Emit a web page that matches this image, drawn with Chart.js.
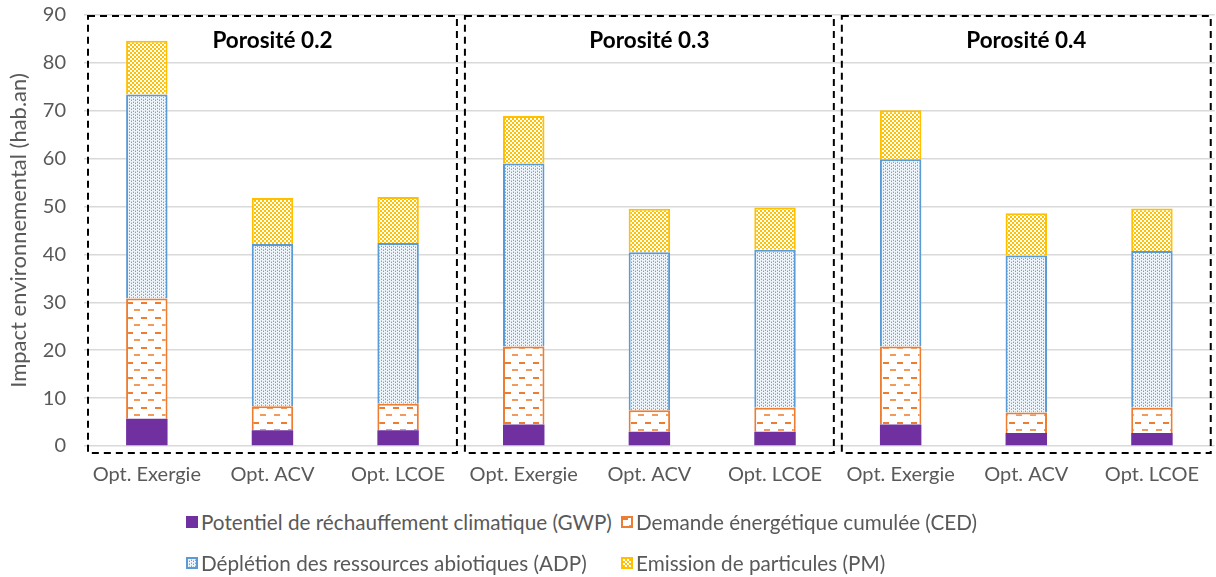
<!DOCTYPE html>
<html lang="fr">
  <head>
    <meta charset="utf-8" />
    <title>Impact environnemental</title>
    <script src="https://cdn.jsdelivr.net/npm/chart.js"></script>
    <style>
      body {
        margin: 0;
        background: #fff;
        font-family: Lato, "Open Sans", sans-serif;
      }
      .wrap {
        position: relative;
        width: 1216px;
        height: 577px;
      }
      .chart-box {
        position: absolute;
        left: 0;
        top: 0;
        width: 1216px;
        height: 495px;
      }
      .legend {
        position: absolute;
        left: 186px;
        top: 510px;
        display: grid;
        grid-template-columns: 435px auto;
        row-gap: 17px;
        font-family: Lato, sans-serif;
        font-size: 20.7px;
        color: #595959;
      }
      .legend div {
        display: flex;
        align-items: center;
        height: 24px;
        white-space: nowrap;
      }
      .legend canvas {
        width: 12px;
        height: 12px;
        margin-right: 3px;
      }
    </style>
  </head>
  <body>
    <div class="wrap">
      <div class="chart-box"><canvas id="impactChart"></canvas></div>
      <div class="legend" id="legend"></div>
    </div>
    <script>
      // categories and groups
      const categories = [
        "Opt. Exergie", "Opt. ACV", "Opt. LCOE",
        "Opt. Exergie", "Opt. ACV", "Opt. LCOE",
        "Opt. Exergie", "Opt. ACV", "Opt. LCOE",
      ];
      const groupTitles = ["Porosité 0.2", "Porosité 0.3", "Porosité 0.4"];

      // valeurs (hab.an)
      const gwp = [5.7, 3.3, 3.3, 4.5, 3.0, 3.0, 4.5, 2.7, 2.7];
      const ced = [25.1, 5.0, 5.5, 16.3, 4.45, 5.0, 16.3, 4.3, 5.3];
      const adp = [42.6, 33.9, 33.6, 38.2, 33.0, 33.0, 39.1, 32.8, 32.7];
      const pm = [11.2, 9.6, 9.6, 9.9, 9.1, 8.8, 10.2, 8.8, 8.9];

      const yTicks = [0, 10, 20, 30, 40, 50, 60, 70, 80, 90];

      const labels = [
        "Potentiel de réchauffement climatique (GWP)",
        "Demande énergétique cumulée (CED)",
        "Déplétion des ressources abiotiques (ADP)",
        "Emission de particules (PM)",
      ];

      // motifs de remplissage
      function makeTile(w, h, draw) {
        const c = document.createElement("canvas");
        c.width = w;
        c.height = h;
        draw(c.getContext("2d"));
        return c;
      }
      const cedTile = makeTile(14, 15, (g) => {
        g.fillStyle = "#fff";
        g.fillRect(0, 0, 14, 15);
        g.fillStyle = "#ED7D31";
        g.fillRect(1, 2, 6, 2);
        g.fillStyle = "#F29A5C";
        g.fillRect(8, 9, 6, 2);
      });
      const adpTile = makeTile(4, 3, (g) => {
        g.fillStyle = "#EEF5FB";
        g.fillRect(0, 0, 4, 3);
        g.fillStyle = "#6AA5DB";
        g.fillRect(1, 0, 1, 1);
        g.fillRect(3, 1, 1, 1);
        g.fillStyle = "#B3D2EE";
        g.fillRect(1, 2, 1, 1);
        g.fillRect(3, 0, 1, 1);
      });
      const pmTile = makeTile(4, 4, (g) => {
        g.fillStyle = "#FFC000";
        g.fillRect(0, 0, 4, 4);
        g.fillStyle = "#fff";
        g.fillRect(0, 0, 2, 2);
        g.fillRect(2, 2, 2, 2);
      });

      const ctx = document.getElementById("impactChart");
      const c2d = ctx.getContext("2d");
      const cedPattern = c2d.createPattern(cedTile, "repeat");
      const adpPattern = c2d.createPattern(adpTile, "repeat");
      const pmPattern = c2d.createPattern(pmTile, "repeat");

      // cadres pointillés autour de chaque groupe + titres
      const groupBoxes = {
        id: "groupBoxes",
        afterDraw(chart) {
          const x = chart.scales.x;
          const y = chart.scales.y;
          const g = chart.ctx;
          const step = x.getPixelForValue(1) - x.getPixelForValue(0);
          const top = y.getPixelForValue(90) + 1;
          const bottom = y.getPixelForValue(0) + 7;
          g.save();
          g.strokeStyle = "#000";
          g.lineWidth = 2;
          g.setLineDash([7, 5]);
          groupTitles.forEach((t, i) => {
            const left = x.getPixelForValue(i * 3) - step / 2 + 4;
            const right = x.getPixelForValue(i * 3 + 2) + step / 2 - 4;
            g.strokeRect(left, top, right - left, bottom - top);
          });
          g.setLineDash([]);
          g.fillStyle = "#000";
          g.font = "bold 22.5px Lato, sans-serif";
          g.textAlign = "center";
          g.textBaseline = "middle";
          groupTitles.forEach((t, i) => {
            g.fillText(t, x.getPixelForValue(i * 3 + 1), top + 25);
          });
          g.restore();
        },
      };

      new Chart(ctx, {
        type: "bar",
        data: {
          labels: categories,
          datasets: [
            {
              label: labels[0],
              data: gwp,
              backgroundColor: "#7030A0",
              borderWidth: 0,
            },
            {
              label: labels[1],
              data: ced,
              backgroundColor: cedPattern,
              borderColor: "#ED7D31",
              borderWidth: 2,
            },
            {
              label: labels[2],
              data: adp,
              backgroundColor: adpPattern,
              borderColor: "#5B9BD5",
              borderWidth: 2,
            },
            {
              label: labels[3],
              data: pm,
              backgroundColor: pmPattern,
              borderColor: "#FFC000",
              borderWidth: 2,
            },
          ],
        },
        options: {
          responsive: true,
          maintainAspectRatio: false,
          animation: false,
          datasets: {
            bar: { categoryPercentage: 1, barPercentage: 0.33 },
          },
          layout: { padding: { top: 15, right: 0, left: 0, bottom: 0 } },
          plugins: {
            legend: { display: false },
            tooltip: { enabled: false },
          },
          scales: {
            x: {
              stacked: true,
              grid: { display: false, drawTicks: false },
              border: { display: false },
              ticks: {
                padding: 17,
                color: "#595959",
                font: { family: "Lato, sans-serif", size: 20 },
                maxRotation: 0,
                autoSkip: false,
              },
              afterFit: (s) => {
                s.height = 49;
              },
            },
            y: {
              stacked: true,
              min: 0,
              max: 90,
              afterBuildTicks: (s) => {
                s.ticks = yTicks.map((v) => ({ value: v }));
              },
              grid: { color: "#D9D9D9", lineWidth: 1.5, drawTicks: false },
              border: { display: false },
              ticks: {
                padding: 18,
                color: "#595959",
                font: { family: "Lato, sans-serif", size: 20 },
              },
              title: {
                display: true,
                text: "Impact environnemental (hab.an)",
                color: "#595959",
                font: { family: "Lato, sans-serif", size: 22 },
                padding: { top: 6, bottom: 0 },
              },
              afterFit: (s) => {
                s.width = 84;
                s.paddingTop = 0;
                s.paddingBottom = 0;
              },
            },
          },
        },
        plugins: [groupBoxes],
      });

      // légende HTML en grille 2 x 2
      const swatchTiles = [null, cedTile, adpTile, pmTile];
      const swatchBorder = ["#7030A0", "#ED7D31", "#5B9BD5", "#FFC000"];
      const legendEl = document.getElementById("legend");
      labels.forEach((txt, i) => {
        const item = document.createElement("div");
        const sw = document.createElement("canvas");
        sw.width = 12;
        sw.height = 12;
        const sg = sw.getContext("2d");
        if (i === 0) {
          sg.fillStyle = "#7030A0";
          sg.fillRect(0, 0, 12, 12);
        } else {
          sg.fillStyle = sg.createPattern(swatchTiles[i], "repeat");
          sg.fillRect(0, 0, 12, 12);
          sg.strokeStyle = swatchBorder[i];
          sg.lineWidth = 2;
          sg.strokeRect(1, 1, 10, 10);
        }
        item.appendChild(sw);
        const span = document.createElement("span");
        span.textContent = txt;
        item.appendChild(span);
        legendEl.appendChild(item);
      });
    </script>
  </body>
</html>
